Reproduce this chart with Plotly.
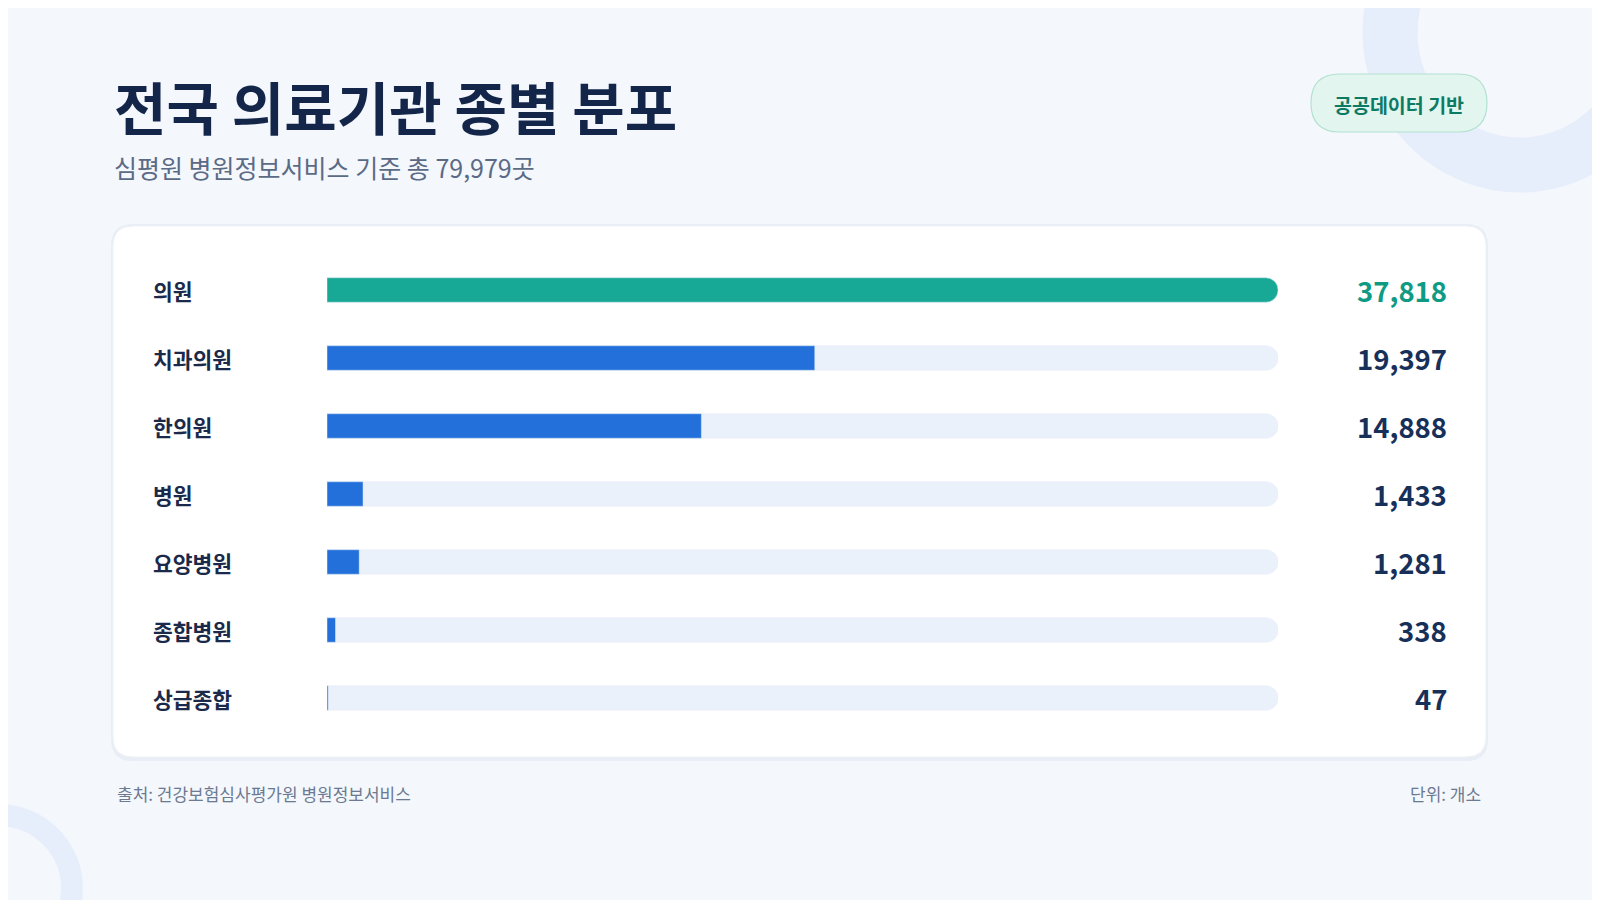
import plotly.graph_objects as go

categories = ["의원", "치과의원", "한의원", "병원", "요양병원", "종합병원", "상급종합"]
values = [37818, 19397, 14888, 1433, 1281, 338, 47]
value_labels = ["37,818", "19,397", "14,888", "1,433", "1,281", "338", "47"]

W, H = 1600, 900
FONT = "Noto Sans CJK KR"
maxv = max(values)
OFF = 8

def px(x): return (x - OFF) / W
def py(y): return 1 - (y - OFF) / H

def rrect(x0, y0, x1, y1, r):
    X0, X1 = px(x0), px(x1); Y0, Y1 = py(y0), py(y1)
    rx, ry = r / W, r / H
    return (f"M{X0+rx},{Y0} L{X1-rx},{Y0} Q{X1},{Y0} {X1},{Y0-ry} "
            f"L{X1},{Y1+ry} Q{X1},{Y1} {X1-rx},{Y1} L{X0+rx},{Y1} "
            f"Q{X0},{Y1} {X0},{Y1+ry} L{X0},{Y0-ry} Q{X0},{Y0} {X0+rx},{Y0} Z")

fig = go.Figure()
fig.add_trace(go.Bar(y=categories, x=[maxv] * len(categories), orientation="h",
                     marker=dict(color="#eaf1fb", cornerradius=12), width=0.36,
                     hoverinfo="skip", showlegend=False))
colors = ["#17a996"] + ["#2370da"] * (len(categories) - 1)
fig.add_trace(go.Bar(y=categories, x=values, orientation="h",
                     marker=dict(color=colors, cornerradius=12), width=0.36,
                     showlegend=False))

shapes = [
    dict(type="circle", xref="paper", yref="paper", x0=px(1390), x1=px(1650), y0=py(-100), y1=py(165),
         line=dict(color="#e6eefb", width=55), layer="below"),
    dict(type="circle", xref="paper", yref="paper", x0=px(-75), x1=px(72), y0=py(815), y1=py(962),
         line=dict(color="#e6eefb", width=22), layer="below"),
    dict(type="path", path=rrect(111, 224, 1488, 761, 22), xref="paper", yref="paper",
         fillcolor="#e9eef6", line=dict(width=0), layer="below"),
    dict(type="path", path=rrect(113, 226, 1486, 757, 20), xref="paper", yref="paper",
         fillcolor="white", line=dict(color="#eef2f8", width=1), layer="below"),
    dict(type="path", path=rrect(1311, 74, 1487, 132, 29), xref="paper", yref="paper",
         fillcolor="#e2f5ee", line=dict(color="#b3e2d1", width=1.2)),
]

ann = [
    dict(text="<b>전국 의료기관 종별 분포</b>", x=px(112), y=py(105), xanchor="left", yanchor="middle",
         font=dict(size=57, color="#13264a", family=FONT)),
    dict(text="심평원 병원정보서비스 기준 총 79,979곳", x=px(112), y=py(167), xanchor="left", yanchor="middle",
         font=dict(size=25, color="#5b6b86", family=FONT)),
    dict(text="<b>공공데이터 기반</b>", x=px(1399), y=py(104), xanchor="center", yanchor="middle",
         font=dict(size=19.5, color="#0d7a63", family=FONT)),
    dict(text="출처: 건강보험심사평가원 병원정보서비스", x=px(115), y=py(793), xanchor="left", yanchor="middle",
         font=dict(size=17, color="#6b7a91", family=FONT)),
    dict(text="단위: 개소", x=px(1483), y=py(793), xanchor="right", yanchor="middle",
         font=dict(size=17, color="#6b7a91", family=FONT)),
]
for i, (c, v) in enumerate(zip(categories, value_labels)):
    ann.append(dict(text=f"<b>{c}</b>", x=px(151), y=c, xref="paper", yref="y", xanchor="left",
                    yanchor="middle", showarrow=False, font=dict(size=21.5, color="#1b2a4a", family=FONT)))
    ann.append(dict(text=f"<b>{v}</b>", x=px(1449), y=c, xref="paper", yref="y", xanchor="right",
                    yanchor="middle", showarrow=False,
                    font=dict(size=27.5, color="#0f9b83" if i == 0 else "#17305a", family=FONT)))
for a in ann:
    a.setdefault("xref", "paper"); a.setdefault("yref", "paper"); a.setdefault("showarrow", False)

fig.update_layout(
    width=W, height=H, margin=dict(l=0, r=0, t=0, b=0),
    paper_bgcolor="#f4f7fc", plot_bgcolor="rgba(0,0,0,0)",
    barmode="overlay", shapes=shapes, annotations=ann,
    xaxis=dict(domain=[px(327), px(1278)], range=[0, maxv], visible=False, fixedrange=True),
    yaxis=dict(domain=[py(732), py(256)], range=[6.5, -0.5], visible=False,
               categoryorder="array", categoryarray=categories),
)
fig.write_html("out.html")
